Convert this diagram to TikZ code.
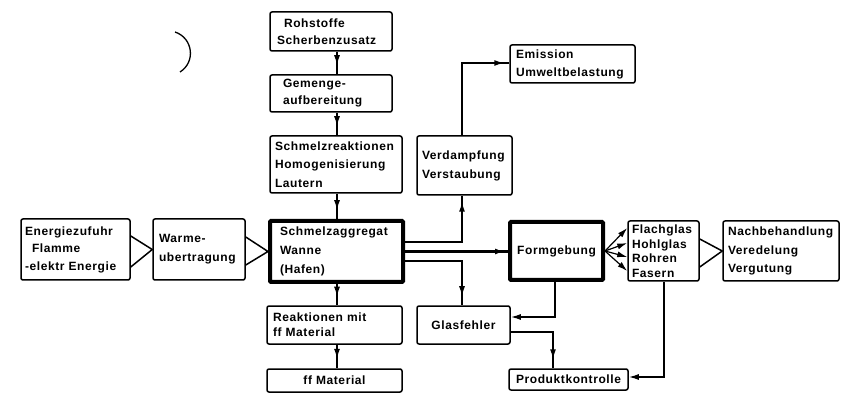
\documentclass[tikz,border=0pt]{standalone}
\usepackage{fontspec}
\newfontfamily\labfont[LetterSpace=5]{Liberation Sans}
\usetikzlibrary{arrows.meta,decorations.markings}
\hyphenpenalty=10000
\exhyphenpenalty=10000
\begin{document}
\begin{tikzpicture}[x=1pt,y=-1pt,
  box/.style={draw, line width=1.5pt, rounded corners=2pt, inner ysep=0pt, align=left,
    font={\labfont\bfseries\fontsize{12}{#1}\selectfont}},
  box/.default=18,
  heavy/.style={box=#1, line width=4pt, rounded corners=1pt},
  heavy/.default=19,
  conn/.style={line width=1.5pt, line join=miter},
  tip/.style={-{Latex[length=10pt,width=6pt]}},
  midarr/.style={postaction={decorate},decoration={markings,
    mark=at position #1 with {\arrow{Latex[length=10pt,width=6pt]}}}},
  midarr/.default=0.5]
\useasboundingbox[fill=white] (0,0) rectangle (843,395);

% boxes
\node[box=17, minimum width=122pt, minimum height=39pt, text width=108pt, inner xsep=7pt] (roh) at (331,31.5) {\hspace*{7pt}Rohstoffe\\Scherbenzusatz};
\node[box=17, minimum width=122pt, minimum height=37pt, text width=96pt, inner xsep=13pt] (gem) at (331,93.5) {Gemenge-\\aufbereitung};
\node[box=18.5, minimum width=132pt, minimum height=57pt, text width=122pt, inner xsep=5pt] (sreak) at (336,164.5) {Schmelzreaktionen\\Homogenisierung\\Lautern};
\node[box=19, minimum width=95pt, minimum height=59pt, text width=85pt, inner xsep=5pt] (verd) at (464.5,165.5) {Verdampfung\\Verstaubung};
\node[box=18, minimum width=125pt, minimum height=38pt, text width=113pt, inner xsep=6pt] (emis) at (572.5,64) {Emission\\Umweltbelastung};
\node[box=17.5, minimum width=109pt, minimum height=61pt, text width=101pt, inner xsep=4pt] (ener) at (75.5,249.5) {Energiezufuhr\\\hspace*{7pt}Flamme\\-elektr Energie};
\node[box=19, minimum width=92pt, minimum height=61pt, text width=80pt, inner xsep=6pt] (warm) at (199,249.5) {Warme-\\ubertragung};
\node[heavy=19, minimum width=133pt, minimum height=61pt, text width=113pt, inner xsep=10pt] (schm) at (336.5,251.5) {Schmelzaggregat\\Wanne\\(Hafen)};
\node[heavy, minimum width=93pt, minimum height=58pt, text width=85pt, inner xsep=4pt, align=center] (form) at (556.5,251) {Formgebung};
\node[box=14.5, minimum width=71pt, minimum height=60pt, text width=63pt, inner xsep=4pt] (flach) at (663.5,251) {Flachglas\\Hohlglas\\Rohren\\Fasern};
\node[box=18.5, minimum width=116pt, minimum height=60pt, text width=106pt, inner xsep=5pt] (nach) at (781,251) {Nachbehandlung\\Veredelung\\Vergutung};
\node[box=15, minimum width=135pt, minimum height=38pt, text width=123pt, inner xsep=6pt] (reak) at (334.5,325) {Reaktionen mit\\ff Material};
\node[box, minimum width=135pt, minimum height=23pt, text width=127pt, inner xsep=4pt, align=center] (ffm) at (334.5,380.5) {ff Material};
\node[box, minimum width=93pt, minimum height=38pt, text width=85pt, inner xsep=4pt, align=center] (glas) at (463.5,325) {Glasfehler};
\node[box, minimum width=119pt, minimum height=21pt, text width=113pt, inner xsep=3pt, align=center] (prod) at (568.5,379.5) {Produktkontrolle};

% helper coordinates
\coordinate (cx) at (337,0);
\coordinate (vu) at (462,242);
\coordinate (vd) at (462,261);
\coordinate (ve) at (462,63);
\coordinate (fg) at (555,317);
\coordinate (gp) at (553,332);
\coordinate (fp) at (664,377);
\coordinate (ta) at (0,236);
\coordinate (tb) at (0,267);
\coordinate (tc) at (0,237);
\coordinate (td) at (0,265);
\coordinate (te) at (0,239);
\coordinate (tf) at (0,267);

% vertical chain
\draw[conn,midarr=0.6] (roh.south -| cx) -- (gem.north -| cx);
\draw[conn,midarr=0.6] (gem.south -| cx) -- (sreak.north -| cx);
\draw[conn,midarr=0.65] (sreak.south -| cx) -- (schm.north -| cx);
\draw[conn,midarr=0.6] (schm.south -| cx) -- (reak.north -| cx);
\draw[conn,midarr=0.6] (reak.south -| cx) -- (ffm.north -| cx);

% energy triangles
\draw[conn] (ener.east |- ta) -- (warm.west) -- (ener.east |- tb);
\draw[conn] (warm.east |- tc) -- (schm.west) -- (warm.east |- td);
\draw[conn] (flach.east |- te) -- (nach.west) -- (flach.east |- tf);

% melt to evaporation and emission
\draw[conn,midarr=-6pt] (vu -| schm.east) -- (vu) -- (verd.south -| vu);
\draw[conn,midarr=-5pt] (verd.north -| ve) -- (ve) -- (emis.west |- ve);

% melt to forming
\draw[line width=2.2pt,midarr=-3pt] (schm.east) -- (schm.east -| form.west);

% melt to glass defects
\draw[conn,midarr=-9pt] (vd -| schm.east) -- (vd) -- (glas.north -| vd);

% forming to defects, defects to control
\draw[conn,tip] (form.south -| fg) -- (fg) -- (glas.east |- fg);
\draw[conn,midarr=-9pt] (glas.east |- gp) -- (gp) -- (prod.north -| gp);
\draw[conn,tip] (flach.south -| fp) -- (fp) -- (prod.east |- fp);

% fan to products
\foreach \yy [count=\i] in {228,243,257,271} {
  \coordinate (fan\i) at (0,\yy);
  \draw[line width=1.2pt,tip] (form.east) -- (flach.west |- fan\i);
}

% stray mark of the scan
\draw[line width=1.3pt] (175,32) .. controls (193,38) and (196,62) .. (180,72);
\end{tikzpicture}
\end{document}
